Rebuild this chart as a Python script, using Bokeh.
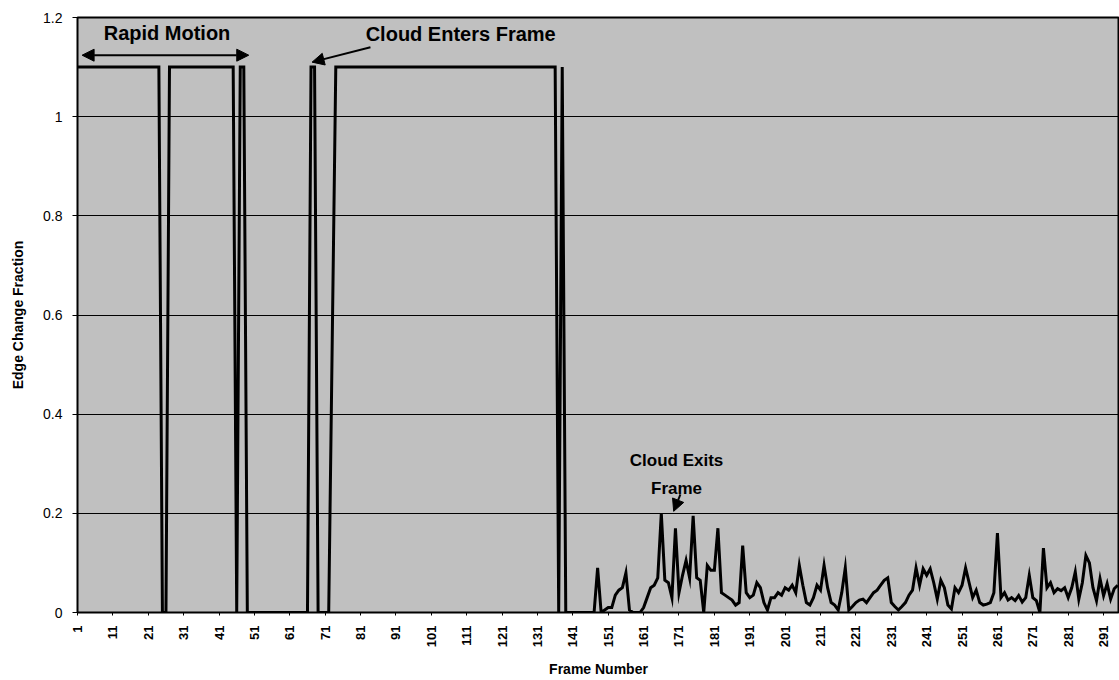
from math import pi
from bokeh.plotting import figure
from bokeh.models import FixedTicker, Label, Arrow, NormalHead, Range1d, ColumnDataSource
from bokeh.embed import file_html
from bokeh.resources import INLINE

# ---------------- data ----------------
first_frame = 1

# frames 1 .. 140 : rapid camera motion, edge change saturates at 1.1
edge_change_motion = [
    1.1, 1.1, 1.1, 1.1, 1.1, 1.1, 1.1, 1.1, 1.1, 1.1,      # 1-10
    1.1, 1.1, 1.1, 1.1, 1.1, 1.1, 1.1, 1.1, 1.1, 1.1,      # 11-20
    1.1, 1.1, 1.1, 1.1, 0.0, 0.0, 1.1, 1.1, 1.1, 1.1,      # 21-30
    1.1, 1.1, 1.1, 1.1, 1.1, 1.1, 1.1, 1.1, 1.1, 1.1,      # 31-40
    1.1, 1.1, 1.1, 1.1, 1.1, 0.0, 1.1, 1.1, 0.0, 0.0,      # 41-50
    0.0, 0.0, 0.0, 0.0, 0.0, 0.0, 0.0, 0.0, 0.0, 0.0,      # 51-60
    0.0, 0.0, 0.0, 0.0, 0.0, 0.0, 1.1, 1.1, 0.0, 0.0,      # 61-70
    0.0, 0.0, 0.55, 1.1, 1.1, 1.1, 1.1, 1.1, 1.1, 1.1,     # 71-80
    1.1, 1.1, 1.1, 1.1, 1.1, 1.1, 1.1, 1.1, 1.1, 1.1,      # 81-90
    1.1, 1.1, 1.1, 1.1, 1.1, 1.1, 1.1, 1.1, 1.1, 1.1,      # 91-100
    1.1, 1.1, 1.1, 1.1, 1.1, 1.1, 1.1, 1.1, 1.1, 1.1,      # 101-110
    1.1, 1.1, 1.1, 1.1, 1.1, 1.1, 1.1, 1.1, 1.1, 1.1,      # 111-120
    1.1, 1.1, 1.1, 1.1, 1.1, 1.1, 1.1, 1.1, 1.1, 1.1,      # 121-130
    1.1, 1.1, 1.1, 1.1, 1.1, 1.1, 0.0, 1.1, 0.0, 0.0,      # 131-140
]

# frames 141 .. 295 : after the motion, cloud exits the frame
edge_change_after = [
    0.0, 0.0, 0.0, 0.0, 0.0, 0.0, 0.0, 0.09, 0.0, 0.005,               # 141-150
    0.01, 0.01, 0.035, 0.045, 0.05, 0.08, 0.005, 0.0, 0.0, 0.0,        # 151-160
    0.01, 0.03, 0.05, 0.055, 0.07, 0.2, 0.065, 0.06, 0.03, 0.17,       # 161-170
    0.04, 0.075, 0.105, 0.07, 0.195, 0.07, 0.065, 0.0, 0.095, 0.085,   # 171-180
    0.085, 0.17, 0.04, 0.035, 0.03, 0.025, 0.015, 0.02, 0.135, 0.04,   # 181-190
    0.03, 0.035, 0.06, 0.05, 0.02, 0.005, 0.03, 0.03, 0.04, 0.035,     # 191-200
    0.05, 0.045, 0.055, 0.04, 0.095, 0.055, 0.02, 0.015, 0.03, 0.055,  # 201-210
    0.045, 0.095, 0.05, 0.02, 0.015, 0.005, 0.04, 0.09, 0.005, 0.012,  # 211-220
    0.02, 0.025, 0.027, 0.02, 0.03, 0.04, 0.045, 0.055, 0.065, 0.07,   # 221-230
    0.02, 0.012, 0.005, 0.012, 0.02, 0.035, 0.045, 0.09, 0.055, 0.088, # 231-240
    0.075, 0.088, 0.06, 0.027, 0.065, 0.05, 0.015, 0.007, 0.05, 0.04,  # 241-250
    0.055, 0.09, 0.06, 0.03, 0.045, 0.02, 0.015, 0.017, 0.02, 0.04,    # 251-260
    0.16, 0.03, 0.04, 0.025, 0.03, 0.024, 0.034, 0.021, 0.03, 0.075,   # 261-270
    0.03, 0.024, 0.0, 0.13, 0.05, 0.06, 0.04, 0.048, 0.044, 0.05,      # 271-280
    0.03, 0.05, 0.082, 0.027, 0.06, 0.115, 0.1, 0.05, 0.024, 0.068,    # 281-290
    0.034, 0.058, 0.027, 0.048, 0.055,                                 # 291-295
]

x_tick_labels = ["1", "11", "21", "31", "41", "51", "61", "71", "81", "91",
                 "101", "111", "121", "131", "141", "151", "161", "171", "181",
                 "191", "201", "211", "221", "231", "241", "251", "261", "271",
                 "281", "291"]
y_tick_values = [0, 0.2, 0.4, 0.6, 0.8, 1.0, 1.2]
y_tick_labels = ["0", "0.2", "0.4", "0.6", "0.8", "1", "1.2"]

# ---------------- build ----------------
values = edge_change_motion + edge_change_after
frames = list(range(first_frame, first_frame + len(values)))
src = ColumnDataSource(dict(frame=frames, value=values))

x_tick_values = [int(s) for s in x_tick_labels]

FONT = "Liberation Sans"

p = figure(width=1119, height=680, output_backend="svg", toolbar_location=None,
           x_range=Range1d(1, 295.5), y_range=Range1d(0, 1.2),
           min_border_left=77, min_border_right=0, min_border_top=17,
           min_border_bottom=68)

p.background_fill_color = "#c0c0c0"
p.border_fill_color = "white"
p.outline_line_color = "black"
p.outline_line_width = 2

p.xgrid.visible = False
p.ygrid.grid_line_color = "black"
p.ygrid.grid_line_width = 1

# y axis
p.yaxis.ticker = FixedTicker(ticks=y_tick_values)
p.yaxis.major_label_overrides = dict(zip(y_tick_values, y_tick_labels))
p.yaxis.major_label_text_font = FONT
p.yaxis.major_label_text_font_size = "14px"
p.yaxis.major_label_text_color = "black"
p.yaxis.major_label_standoff = 10
p.yaxis.major_tick_out = 5
p.yaxis.major_tick_in = 0
p.yaxis.minor_tick_line_color = None
p.yaxis.axis_line_color = "black"
p.yaxis.axis_label = "Edge Change Fraction"
p.yaxis.axis_label_text_font = FONT
p.yaxis.axis_label_text_font_style = "bold"
p.yaxis.axis_label_text_font_size = "14px"
p.yaxis.axis_label_text_color = "black"
p.yaxis.axis_label_standoff = 14

# x axis
p.xaxis.ticker = FixedTicker(ticks=x_tick_values)
p.xaxis.major_label_overrides = dict(zip(x_tick_values, x_tick_labels))
p.xaxis.major_label_orientation = pi / 2
p.xaxis.major_label_text_font = FONT
p.xaxis.major_label_text_font_style = "bold"
p.xaxis.major_label_text_font_size = "13px"
p.xaxis.major_label_text_color = "black"
p.xaxis.major_label_standoff = 10
p.xaxis.major_tick_out = 3
p.xaxis.major_tick_in = 0
p.xaxis.minor_tick_line_color = None
p.xaxis.axis_line_color = "black"
p.xaxis.axis_label = "Frame Number"
p.xaxis.axis_label_text_font = FONT
p.xaxis.axis_label_text_font_style = "bold"
p.xaxis.axis_label_text_font_size = "14px"
p.xaxis.axis_label_text_color = "black"
p.xaxis.axis_label_standoff = 11

# data line
p.line("frame", "value", source=src, line_color="black", line_width=3,
       line_join="miter")

# annotations
def head():
    return NormalHead(size=12, fill_color="black", line_color="black", line_width=1)

p.add_layout(Label(x=26.3, y=1.168, text="Rapid Motion", text_align="center",
                   text_baseline="middle", text_font=FONT, text_font_style="bold",
                   text_font_size="20px", text_color="black"))
p.add_layout(Arrow(start=head(), end=head(), x_start=2.3, y_start=1.124,
                   x_end=49.4, y_end=1.124, line_width=2, line_color="black"))

p.add_layout(Label(x=109.3, y=1.166, text="Cloud Enters Frame", text_align="center",
                   text_baseline="middle", text_font=FONT, text_font_style="bold",
                   text_font_size="20px", text_color="black"))
p.add_layout(Arrow(end=head(), x_start=83.8, y_start=1.140, x_end=67.3, y_end=1.110,
                   line_width=2, line_color="black"))

p.add_layout(Label(x=170.3, y=0.278, text="Cloud Exits\nFrame", text_align="center",
                   text_baseline="middle", text_font=FONT, text_font_style="bold",
                   text_font_size="17px", text_color="black", text_line_height=1.5))
p.add_layout(Arrow(end=head(), x_start=171.4, y_start=0.238, x_end=169.5, y_end=0.204,
                   line_width=2, line_color="black"))

open("out.html", "w").write(file_html(p, INLINE))
